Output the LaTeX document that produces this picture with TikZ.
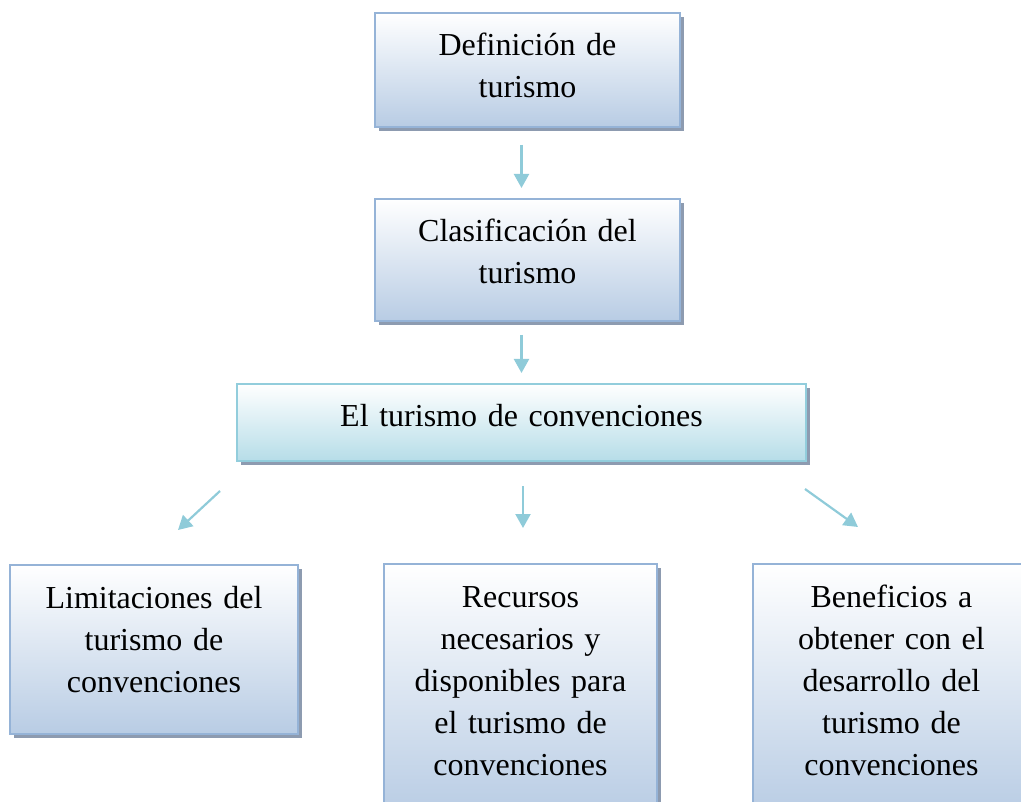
\documentclass[tikz,border=0pt]{standalone}
\usepackage{fontspec}
\setmainfont{Liberation Serif}
\usepackage{tikz}
\usetikzlibrary{arrows.meta, positioning, shadows}
\usepackage{xcolor}
\definecolor{boxborder}{RGB}{149, 179, 215}
\definecolor{boxfill}{RGB}{184, 204, 228}
\definecolor{convborder}{RGB}{146, 205, 220}
\definecolor{convfill}{RGB}{182, 221, 232}
\definecolor{shadowgray}{RGB}{141, 155, 176}
\definecolor{arrowteal}{RGB}{143, 203, 217}
\tikzset{
    % Topic boxes (blue gradient)
    topic box/.style={
        rectangle, draw=boxborder, line width=2pt,
        top color=white, bottom color=boxfill,
        anchor=north, align=center, inner xsep=6pt, inner ysep=18pt,
        text height=25pt,
        font=\fontsize{32}{42}\selectfont,
        drop shadow={shadow xshift=4pt, shadow yshift=-4pt, fill=shadowgray, opacity=1}
    },
    % Central box (cyan gradient)
    main box/.style={
        topic box, draw=convborder, bottom color=convfill
    },
    % Arrows
    flow arrow/.style={
        -{Triangle[length=14pt, width=15pt]}, line width=2.2pt, color=arrowteal
    }
}
\begin{document}
\begin{tikzpicture}[x=1pt, y=-1pt]
    \useasboundingbox (0, 0) rectangle (1021, 802);

    % Top chain
    \node[topic box, minimum width=305pt, text width=293pt, text depth=53pt] (def) at (527.5, 12) {Definición de\\turismo};
    \node[topic box, minimum width=305pt, text width=293pt, text depth=61pt] (clas) at (527.5, 198) {Clasificación del\\turismo};
    \node[main box, minimum width=569pt, text width=557pt, text depth=16pt] (conv) at (521.5, 383) {El turismo de convenciones};

    % Bottom row
    \node[topic box, minimum width=288pt, text width=276pt, text depth=108pt] (lim) at (154, 564) {Limitaciones del\\turismo de\\convenciones};
    \node[topic box, minimum width=273pt, text width=261pt, text depth=191pt] (rec) at (520.5, 563) {Recursos\\necesarios y\\disponibles para\\el turismo de\\convenciones};
    \node[topic box, minimum width=277pt, text width=265pt, text depth=191pt] (ben) at (891.5, 563) {Beneficios a\\obtener con el\\desarrollo del\\turismo de\\convenciones};

    % Arrow ends
    \coordinate (limfrom) at (220, 491);
    \coordinate (limto) at (178, 530);
    \coordinate (benfrom) at (805, 489);
    \coordinate (bento) at (858, 527);

    % Arrows
    \draw[flow arrow, shorten <=17pt, shorten >=10pt] ([xshift=-6pt]def.south) -- ([xshift=-6pt]clas.north);
    \draw[flow arrow, shorten <=13pt, shorten >=10pt] ([xshift=-6pt]clas.south) -- ([xshift=-6pt]conv.north -| clas.north);
    \draw[flow arrow] (limfrom) -- (limto);
    \draw[flow arrow, shorten <=24pt, shorten >=35pt] ([xshift=1.5pt]conv.south) -- ([xshift=1.5pt]conv.south |- rec.north);
    \draw[flow arrow] (benfrom) -- (bento);

\end{tikzpicture}
\end{document}
